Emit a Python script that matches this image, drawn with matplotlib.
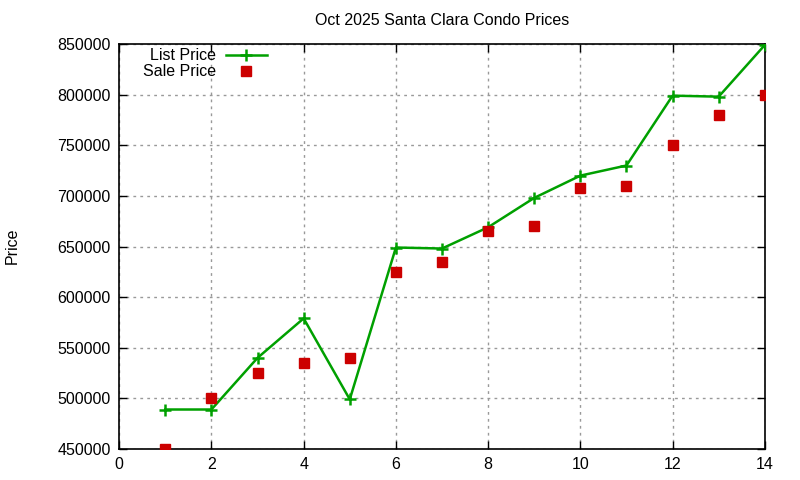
import matplotlib
matplotlib.use("Agg")
import matplotlib.pyplot as plt

plt.rcParams['font.family'] = ['Liberation Sans', 'DejaVu Sans']

months = [1, 2, 3, 4, 5, 6, 7, 8, 9, 10, 11, 12, 13, 14]
list_price = [489000, 489000, 540000, 579000, 499000, 649000, 648000,
              669000, 698000, 720000, 730000, 799000, 798000, 849000]
sale_price = [450000, 500000, 525000, 535000, 540000, 625000, 635000,
              665000, 670000, 708000, 710000, 750000, 780000, 800000]

fig = plt.figure(figsize=(8, 4.8), dpi=100)
ax = fig.add_axes([0.149, 0.0646, 0.807, 0.8437])

ax.plot(months, list_price, color='#00a000', lw=1.8, marker='+', ms=9, mew=1.8,
        label='List Price', zorder=3)
ax.plot(months, sale_price, ls='none', color='#cc0000', marker='s', ms=6.5,
        label='Sale Price', zorder=4)

ax.set_xlim(0, 14)
ax.set_ylim(450000, 850000)
ax.set_xticks(range(0, 15, 2))
ax.set_yticks(range(450000, 850001, 50000))
ax.ticklabel_format(style='plain', axis='y', useOffset=False)
ax.grid(True, color='#999999', ls=(0, (2, 3)), lw=1)
ax.tick_params(direction='in', length=6, top=True, right=True, labelsize=11.5,
               width=1, pad=6)
for s in ax.spines.values():
    s.set_linewidth(1.2)

ax.set_title('Oct 2025 Santa Clara Condo Prices', fontsize=11.5, pad=14)
fig.text(0.015, 0.487, 'Price', rotation=90, fontsize=11.5, va='center', ha='center')

ax.legend(loc='upper left', bbox_to_anchor=(0.022, 1.013), frameon=False,
          markerfirst=False, fontsize=11.5, handlelength=2.6, labelspacing=0.05,
          handletextpad=0.6, borderaxespad=0.2)
for t in ax.get_legend().get_texts():
    t.set_ha('right')

fig.savefig('out.png', dpi=100)
